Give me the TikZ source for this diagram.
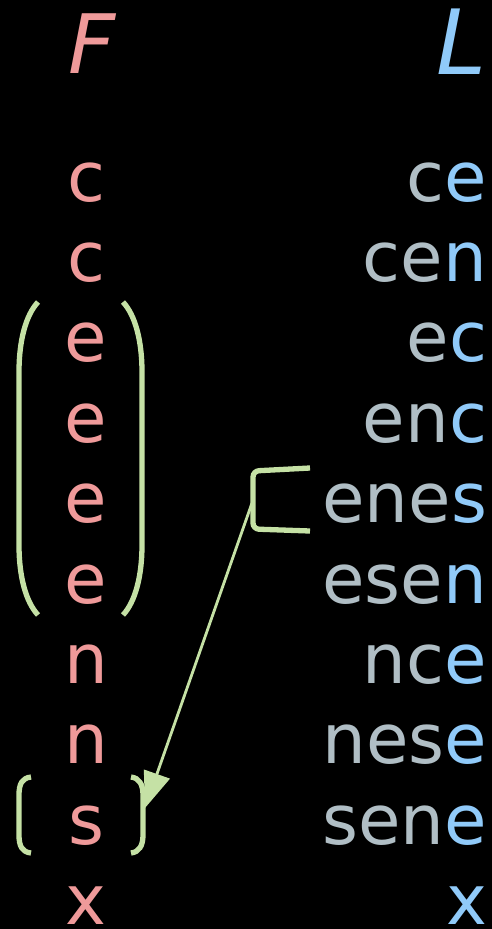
\documentclass[tikz,border=0pt]{standalone}
\usepackage{fontspec}
\setmainfont{DejaVu Sans}
\usetikzlibrary{arrows.meta}
\definecolor{fcol}{HTML}{EF9A9A}
\definecolor{lcol}{HTML}{90CAF9}
\definecolor{rest}{HTML}{B0BEC5}
\definecolor{mark}{HTML}{C5E1A5}
\newcommand{\lastch}[1]{\textcolor{lcol}{#1}}
\begin{document}
\begin{tikzpicture}[x=1pt,y=-1pt,
  glyph/.style={inner sep=0pt, outer sep=0pt, font=\fontsize{69}{80}\selectfont},
  fch/.style={glyph, anchor=base, text=fcol},
  lword/.style={glyph, anchor=base east, text=rest},
  brk/.style={draw=mark, line width=5.3pt},
  pointer/.style={draw=mark, line width=2.8pt, -{Triangle[length=36pt,width=27pt]}}]
\useasboundingbox (0,0) rectangle (492,929);
\fill[black] (0,0) rectangle (492,929);

% column headers
\node[inner sep=0pt, anchor=base, text=fcol, font=\fontsize{82}{90}\selectfont\itshape] (F) at (92,73) {F};
\node[inner sep=0pt, anchor=base east, text=lcol, font=\fontsize{90}{100}\selectfont\itshape] (L) at (487,74) {L};

% first column
\foreach \ch [count=\i] in {c,c,e,e,e,e,n,n,s,x}
  \node[fch] (f\i) at (86,{201+80.4*(\i-1)}) {\ch};

% last column: prefix in grey, final letter in blue
\foreach \pre/\ch [count=\i] in {c/e,ce/n,e/c,en/c,ene/s,ese/n,nc/e,nes/e,sen/e,/x}
  \node[lword] (l\i) at (487,{201+80.4*(\i-1)}) {\pre\lastch{\ch}};

% parenthesis around the run of e's
\draw[brk] (38,302) .. controls (26,315) and (19,340) .. (19,372) -- (19,545)
           .. controls (19,577) and (26,602) .. (38,615);
\draw[brk] (123,302) .. controls (135,315) and (142,340) .. (142,372) -- (142,545)
           .. controls (142,577) and (135,602) .. (123,615);

% bracket around s
\draw[brk] (31,777) .. controls (22,778) and (19,784) .. (19,795) -- (19,835)
           .. controls (19,846) and (22,852) .. (31,853);
\draw[brk] (131,777) .. controls (139,778) and (143,784) .. (143,795) -- (143,835)
           .. controls (143,846) and (139,852) .. (131,853);

% bracket beside enes
\draw[brk, rounded corners=6pt] (310,468) -- (253,471) -- (253,529) -- (310,531);

% pointer from the enes bracket to the s bracket
\coordinate (src) at (252,503);
\coordinate (dst) at (145,808);
\draw[pointer] (src) -- (dst);
\end{tikzpicture}
\end{document}
